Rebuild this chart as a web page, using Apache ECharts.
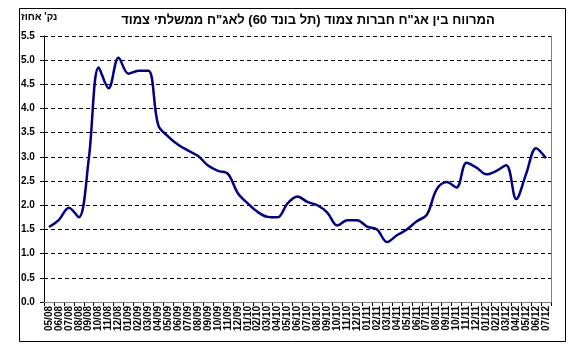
<!DOCTYPE html>
<html>
<head>
<meta charset="utf-8">
<script src="https://cdn.jsdelivr.net/npm/echarts@6/dist/echarts.min.js"></script>
<style>
html,body{margin:0;padding:0;background:#fff;}
#chart{width:576px;height:357px;}
</style>
</head>
<body>
<div id="chart"></div>
<script>
const months = [
  '05/08','06/08','07/08','08/08','09/08','10/08','11/08','12/08',
  '01/09','02/09','03/09','04/09','05/09','06/09','07/09','08/09','09/09','10/09','11/09','12/09',
  '01/10','02/10','03/10','04/10','05/10','06/10','07/10','08/10','09/10','10/10','11/10','12/10',
  '01/11','02/11','03/11','04/11','05/11','06/11','07/11','08/11','09/11','10/11','11/11','12/11',
  '01/12','02/12','03/12','04/12','05/12','06/12','07/12'
];
const spread = [
  1.55, 1.70, 1.95, 1.75, 2.95, 4.85, 4.42, 5.05,
  4.72, 4.78, 4.78, 3.65, 3.42, 3.25, 3.13, 3.02, 2.82, 2.71, 2.65, 2.25,
  2.04, 1.86, 1.76, 1.75, 2.04, 2.18, 2.07, 2.00, 1.85, 1.58, 1.69, 1.69,
  1.56, 1.50, 1.24, 1.38, 1.50, 1.67, 1.80, 2.33, 2.48, 2.37, 2.88, 2.78,
  2.64, 2.71, 2.83, 2.13, 2.65, 3.18, 2.97
];
const titleText = 'המרווח בין אג"ח חברות צמוד (תל בונד 60) לאג"ח ממשלתי צמוד';
const unitText = "נק' אחוז";
const yMin = 0, yMax = 5.5, yStep = 0.5;

const font = 'Liberation Sans, Arial, sans-serif';
const chart = echarts.init(document.getElementById('chart'), null, {renderer: 'canvas'});
chart.setOption({
  animation: false,
  backgroundColor: '#fff',
  title: {
    text: titleText,
    left: 303, top: 9, textAlign: 'center',
    textStyle: {fontFamily: font, fontSize: 13, fontWeight: 'bold', color: '#000'}
  },
  graphic: [
    {type: 'rect', shape: {x: 19.5, y: 8.5, width: 546, height: 333},
     style: {fill: null, stroke: '#000', lineWidth: 1}, z: -10, silent: true},
    {type: 'text', left: 21, top: 12,
     style: {text: unitText, font: 'bold 10px ' + font, fill: '#000'}}
  ],
  grid: {left: 44, top: 36, right: 25, bottom: 55, show: false},
  xAxis: [{
    type: 'category', data: months, boundaryGap: true,
    axisLine: {lineStyle: {color: '#000', width: 1}},
    axisTick: {show: true, interval: 0, length: 4, lineStyle: {color: '#000'}},
    axisLabel: {interval: 0, rotate: 90, margin: 4, color: '#000',
      fontFamily: font, fontSize: 10, fontWeight: 'bold'},
    splitLine: {show: false}
  }, {
    type: 'category', data: months, position: 'top', z: 5,
    axisLine: {lineStyle: {color: '#808080', width: 1}},
    axisTick: {show: false}, axisLabel: {show: false}, splitLine: {show: false}
  }],
  yAxis: [{
    type: 'value', min: yMin, max: yMax, interval: yStep,
    axisLine: {show: true, lineStyle: {color: '#000', width: 1}},
    axisTick: {show: true, length: 4, lineStyle: {color: '#000'}},
    axisLabel: {formatter: v => v.toFixed(1), color: '#000', margin: 11, align: 'left',
      padding: [0, 0, 0, -12],
      fontFamily: font, fontSize: 10, fontWeight: 'bold'},
    splitLine: {show: true, lineStyle: {color: '#000', type: [4, 3], width: 1}}
  }, {
    type: 'value', min: yMin, max: yMax, interval: yStep, position: 'right', z: 5,
    axisLine: {show: true, lineStyle: {color: '#808080', width: 1}},
    axisTick: {show: false}, axisLabel: {show: false}, splitLine: {show: false}
  }],
  series: [{
    type: 'line', data: spread, xAxisIndex: 0, yAxisIndex: 0,
    smooth: 0.35, showSymbol: false, symbol: 'none',
    lineStyle: {color: '#000080', width: 2.5}
  }]
});
</script>
</body>
</html>
